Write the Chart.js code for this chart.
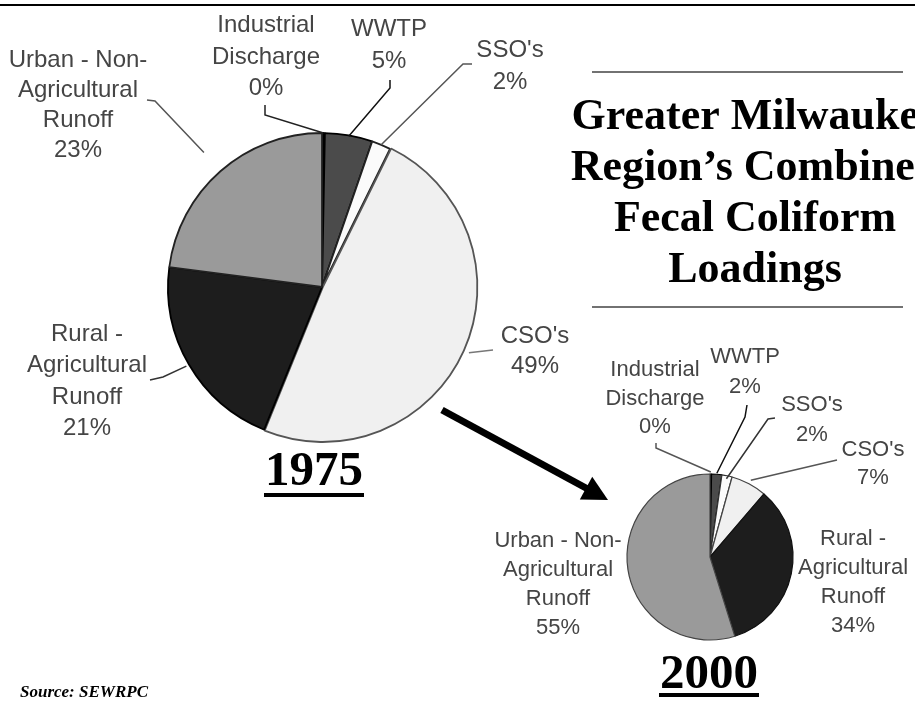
<!DOCTYPE html>
<html>
<head>
<meta charset="utf-8">
<script src="https://cdn.jsdelivr.net/npm/chart.js@4.4.1/dist/chart.umd.min.js"></script>
<style>
html,body{margin:0;padding:0;background:#fff;overflow:hidden}
#wrap{position:relative;width:915px;height:704px}
canvas{position:absolute;left:0;top:0}
</style>
</head>
<body>
<div id="wrap">
<canvas id="c1" width="915" height="704"></canvas>
<canvas id="c2" width="915" height="704"></canvas>
</div>
<script>
// ---------- DATA ----------
const categories = ['Industrial Discharge', 'WWTP', "SSO's", "CSO's", 'Rural - Agricultural Runoff', 'Urban - Non-Agricultural Runoff'];
const categoryLines = [['Industrial', 'Discharge'], ['WWTP'], ["SSO's"], ["CSO's"], ['Rural -', 'Agricultural', 'Runoff'], ['Urban - Non-', 'Agricultural', 'Runoff']];
const values1975 = [0.3, 5, 2, 49, 21, 23];
const values2000 = [0.3, 2, 2, 7, 34, 55];
const years = ['1975', '2000'];
const titleLines = ['Greater Milwaukee', 'Region\u2019s Combined', 'Fecal Coliform', 'Loadings'];
const sourceText = 'Source: SEWRPC';

// ---------- STYLE / LAYOUT ----------
const sliceColors = ['#000000', '#4b4b4b', '#fbfbfb', '#f0f0f0', '#1d1d1d', '#9a9a9a'];
const sliceBorders1975 = ['#000', '#000', '#222', '#555', '#000', '#222'];
const sliceBorders2000 = ['#000', '#000', '#333', '#444', '#111', '#444'];
const labelColor = '#454545';
const sansFont = '"Liberation Sans", Arial, Helvetica, sans-serif';
const serifFont = '"Liberation Serif", "Times New Roman", Times, serif';

const layout1975 = [
  {cx: 266, y: 32, lh: 31.5, path: [[265, 105], [265, 115]], r: 154, color: '#222'},
  {cx: 389, y: 36, lh: 32, path: [[390, 80], [390, 88]], r: 153, color: '#111'},
  {cx: 510, y: 57, lh: 32, path: [[472, 64], [463, 64]], r: 154, color: '#555'},
  {cx: 535, y: 343, lh: 30, path: [[493, 350]], r: 161, color: '#777'},
  {cx: 87, y: 341, lh: 31.3, path: [[150, 380], [163, 377]], r: 157, color: '#333'},
  {cx: 78, y: 67, lh: 30, path: [[147, 100], [155, 101]], r: 179, color: '#555'}
];
const layout2000 = [
  {cx: 655, y: 376, lh: 28.5, path: [[656, 443], [656, 448]], r: 85, color: '#555'},
  {cx: 745, y: 363, lh: 30, path: [[747, 405], [745, 417]], r: 84, color: '#111'},
  {cx: 812, y: 411, lh: 30, path: [[775, 418], [768, 419]], r: 80, color: '#333'},
  {cx: 873, y: 456, lh: 28, path: [[837, 460]], r: 87, color: '#555'},
  {cx: 853, y: 545, lh: 29, path: null},
  {cx: 558, y: 547, lh: 29, path: null}
];

function pct(v) { return Math.round(v) + '%'; }

function drawLabels(chart, values, layout, fontSize) {
  const ctx = chart.ctx;
  const meta = chart.getDatasetMeta(0);
  ctx.save();
  meta.data.forEach((arc, i) => {
    const L = layout[i];
    const p = arc.getProps(['x', 'y', 'startAngle', 'endAngle', 'outerRadius'], true);
    if (L.path) {
      const mid = (p.startAngle + p.endAngle) / 2;
      const ex = p.x + Math.cos(mid) * L.r;
      const ey = p.y + Math.sin(mid) * L.r;
      ctx.beginPath();
      ctx.strokeStyle = L.color;
      ctx.lineWidth = 1.5;
      ctx.moveTo(L.path[0][0], L.path[0][1]);
      for (let k = 1; k < L.path.length; k++) ctx.lineTo(L.path[k][0], L.path[k][1]);
      ctx.lineTo(ex, ey);
      ctx.stroke();
    }
    const lines = categoryLines[i].concat([pct(values[i])]);
    ctx.font = fontSize + 'px ' + sansFont;
    ctx.fillStyle = labelColor;
    ctx.textAlign = 'center';
    ctx.textBaseline = 'alphabetic';
    lines.forEach((t, j) => ctx.fillText(t, L.cx, L.y + j * L.lh));
  });
  ctx.restore();
}

function drawYear(ctx, text, cx, baseline, ulY) {
  ctx.save();
  ctx.font = 'bold 49px ' + serifFont;
  ctx.fillStyle = '#000';
  ctx.textAlign = 'center';
  ctx.textBaseline = 'alphabetic';
  ctx.fillText(text, cx, baseline);
  const w = ctx.measureText(text).width;
  ctx.fillRect(cx - w / 2 - 1, ulY, w + 2, 4);
  ctx.restore();
}

const decor1975 = {
  id: 'decor1975',
  afterDraw(chart) {
    const ctx = chart.ctx;
    ctx.save();
    // top rule
    ctx.fillStyle = '#000';
    ctx.fillRect(0, 4, 915, 2);
    // title rules
    ctx.strokeStyle = '#444';
    ctx.lineWidth = 1.5;
    ctx.beginPath();
    ctx.moveTo(592, 72); ctx.lineTo(903, 72);
    ctx.moveTo(592, 307); ctx.lineTo(903, 307);
    ctx.stroke();
    // title
    ctx.font = 'bold 44px ' + serifFont;
    ctx.fillStyle = '#000';
    ctx.textAlign = 'center';
    ctx.textBaseline = 'alphabetic';
    titleLines.forEach((t, i) => ctx.fillText(t, 755, 129 + i * 51));
    // arrow
    const sx = 442, sy = 410, tx = 608, ty = 500;
    const dx = tx - sx, dy = ty - sy, len = Math.hypot(dx, dy);
    const ux = dx / len, uy = dy / len, nx = -uy, ny = ux;
    const bx = tx - 25 * ux, by = ty - 25 * uy;
    ctx.strokeStyle = '#000';
    ctx.lineWidth = 7;
    ctx.lineCap = 'butt';
    ctx.beginPath();
    ctx.moveTo(sx, sy); ctx.lineTo(bx + 2 * ux, by + 2 * uy);
    ctx.stroke();
    ctx.beginPath();
    ctx.moveTo(tx, ty);
    ctx.lineTo(bx + 13 * nx, by + 13 * ny);
    ctx.lineTo(bx - 13 * nx, by - 13 * ny);
    ctx.closePath();
    ctx.fillStyle = '#000';
    ctx.fill();
    // source
    ctx.font = 'italic bold 17px ' + serifFont;
    ctx.textAlign = 'left';
    ctx.fillText(sourceText, 20, 697);
    ctx.restore();
    drawLabels(chart, values1975, layout1975, 24);
    drawYear(ctx, years[0], 314, 485, 493);
  }
};

const decor2000 = {
  id: 'decor2000',
  afterDraw(chart) {
    drawLabels(chart, values2000, layout2000, 22);
    drawYear(chart.ctx, years[1], 709, 688, 693);
  }
};

function pieConfig(values, borders, offsets, radius, padding, bw, plugin) {
  return {
    type: 'pie',
    data: {
      labels: categories,
      datasets: [{
        data: values,
        backgroundColor: sliceColors,
        borderColor: borders,
        borderWidth: bw,
        offset: offsets,
        radius: radius
      }]
    },
    options: {
      responsive: false,
      animation: false,
      events: [],
      layout: {padding: padding},
      plugins: {legend: {display: false}, tooltip: {enabled: false}, title: {display: false}}
    },
    plugins: [plugin]
  };
}

new Chart(document.getElementById('c1'), pieConfig(values1975, sliceBorders1975, [0, 0, 0, 3, 0, 0], 154,
  {left: 0, top: 0, right: 271, bottom: 130}, 1.8, decor1975));
new Chart(document.getElementById('c2'), pieConfig(values2000, sliceBorders2000, [0, 0, 0, 0, 0, 0], 83,
  {left: 627, top: 474, right: 122, bottom: 64}, 1.2, decor2000));
</script>
</body>
</html>
